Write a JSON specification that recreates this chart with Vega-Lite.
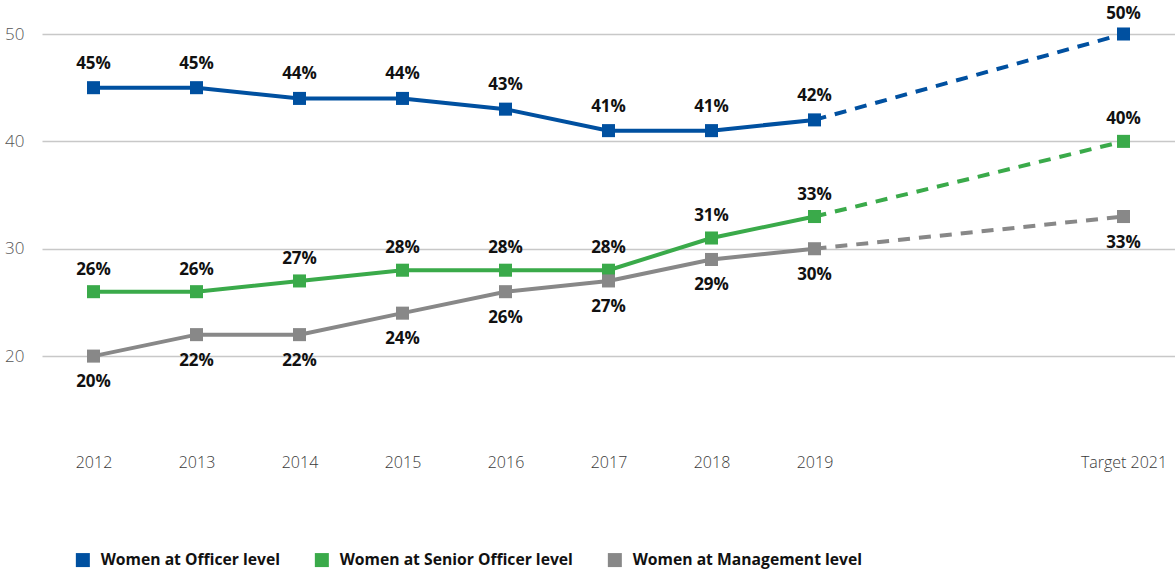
{
  "$schema": "https://vega.github.io/schema/vega-lite/v6.json",
  "width": 1133,
  "height": 408,
  "autosize": {"type": "none"},
  "padding": {"left": 42, "top": 34, "right": 0, "bottom": 130},
  "background": "white",
  "config": {"view": {"stroke": null}, "font": "Open Sans"},
  "data": {
    "values": [
      {"year": "2012", "level": "Women at Officer level", "value": 45},
      {"year": "2013", "level": "Women at Officer level", "value": 45},
      {"year": "2014", "level": "Women at Officer level", "value": 44},
      {"year": "2015", "level": "Women at Officer level", "value": 44},
      {"year": "2016", "level": "Women at Officer level", "value": 43},
      {"year": "2017", "level": "Women at Officer level", "value": 41},
      {"year": "2018", "level": "Women at Officer level", "value": 41},
      {"year": "2019", "level": "Women at Officer level", "value": 42},
      {"year": "Target 2021", "level": "Women at Officer level", "value": 50},
      {"year": "2012", "level": "Women at Senior Officer level", "value": 26},
      {"year": "2013", "level": "Women at Senior Officer level", "value": 26},
      {"year": "2014", "level": "Women at Senior Officer level", "value": 27},
      {"year": "2015", "level": "Women at Senior Officer level", "value": 28},
      {"year": "2016", "level": "Women at Senior Officer level", "value": 28},
      {"year": "2017", "level": "Women at Senior Officer level", "value": 28},
      {"year": "2018", "level": "Women at Senior Officer level", "value": 31},
      {"year": "2019", "level": "Women at Senior Officer level", "value": 33},
      {"year": "Target 2021", "level": "Women at Senior Officer level", "value": 40},
      {"year": "2012", "level": "Women at Management level", "value": 20},
      {"year": "2013", "level": "Women at Management level", "value": 22},
      {"year": "2014", "level": "Women at Management level", "value": 22},
      {"year": "2015", "level": "Women at Management level", "value": 24},
      {"year": "2016", "level": "Women at Management level", "value": 26},
      {"year": "2017", "level": "Women at Management level", "value": 27},
      {"year": "2018", "level": "Women at Management level", "value": 29},
      {"year": "2019", "level": "Women at Management level", "value": 30},
      {"year": "Target 2021", "level": "Women at Management level", "value": 33}
    ]
  },
  "transform": [{"calculate": "datum.value + '%'", "as": "label"}],
  "encoding": {
    "x": {
      "field": "year",
      "type": "ordinal",
      "scale": {"type": "point", "padding": 0.5, "domain": ["2012", "2013", "2014", "2015", "2016", "2017", "2018", "2019", " ", "  ", "Target 2021"]},
      "axis": {"title": null, "labelAngle": 0, "ticks": false, "domain": false, "grid": false, "labelFontSize": 16, "labelColor": "#3a3a3a", "labelPadding": 12, "labelFontWeight": 300}
    },
    "y": {
      "field": "value",
      "type": "quantitative",
      "scale": {"domain": [12, 50], "nice": false, "zero": false},
      "axis": {"title": null, "values": [20, 30, 40, 50], "ticks": false, "domain": false, "grid": true, "gridColor": "#c8c8c8", "gridWidth": 1.5, "labelFontSize": 17, "labelColor": "#555555", "labelPadding": 18, "labelFontWeight": 300}
    },
    "color": {
      "field": "level",
      "type": "nominal",
      "scale": {"domain": ["Women at Officer level", "Women at Senior Officer level", "Women at Management level"], "range": ["#0050a0", "#3aaa4a", "#888888"]},
      "legend": {
        "title": null,
        "orient": "none",
        "direction": "horizontal",
        "legendX": 33,
        "legendY": 518,
        "symbolType": "square",
        "symbolSize": 196,
        "symbolStrokeWidth": 0,
        "symbolOpacity": 1,
        "labelFontSize": 15.7,
        "labelFontWeight": "bold",
        "labelColor": "#111111",
        "labelOffset": 10,
        "columnPadding": 34,
        "labelLimit": 400
      }
    }
  },
  "layer": [
    {
      "transform": [{"filter": "datum.year != 'Target 2021'"}],
      "mark": {"type": "line", "strokeWidth": 4}
    },
    {
      "transform": [{"filter": "datum.year == '2019' || datum.year == 'Target 2021'"}],
      "mark": {"type": "line", "strokeWidth": 4, "strokeDash": [12, 9]}
    },
    {
      "mark": {"type": "point", "shape": "square", "filled": true, "size": 170, "opacity": 1}
    },
    {
      "transform": [{"filter": "datum.level == 'Women at Officer level' && datum.year != 'Target 2021'"}],
      "mark": {"type": "text", "dy": -24, "fontSize": 17, "fontWeight": "bold"},
      "encoding": {"text": {"field": "label"}, "color": {"value": "#111111"}}
    },
    {
      "transform": [{"filter": "datum.level == 'Women at Officer level' && datum.year == 'Target 2021'"}],
      "mark": {"type": "text", "dy": -20, "fontSize": 17, "fontWeight": "bold"},
      "encoding": {"text": {"field": "label"}, "color": {"value": "#111111"}}
    },
    {
      "transform": [{"filter": "datum.level == 'Women at Senior Officer level'"}],
      "mark": {"type": "text", "dy": -22, "fontSize": 17, "fontWeight": "bold"},
      "encoding": {"text": {"field": "label"}, "color": {"value": "#111111"}}
    },
    {
      "transform": [{"filter": "datum.level == 'Women at Management level'"}],
      "mark": {"type": "text", "dy": 26, "fontSize": 17, "fontWeight": "bold"},
      "encoding": {"text": {"field": "label"}, "color": {"value": "#111111"}}
    }
  ]
}
